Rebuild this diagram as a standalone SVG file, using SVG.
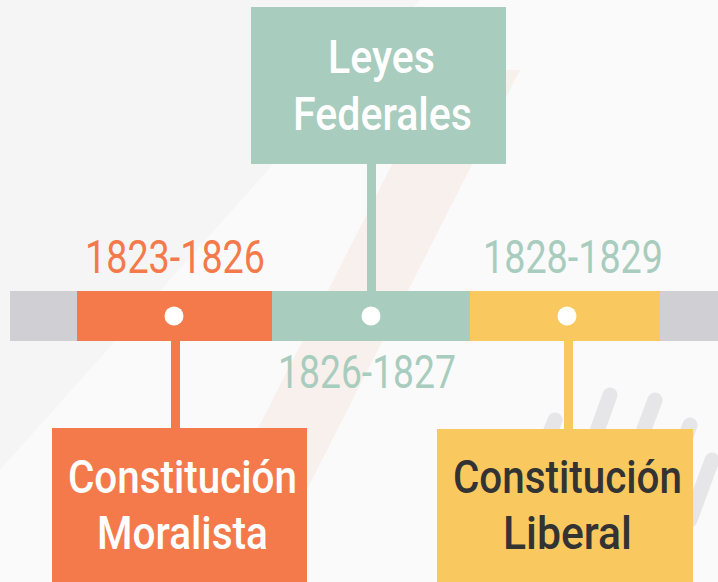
<svg xmlns="http://www.w3.org/2000/svg" width="718" height="582" viewBox="0 0 718 582">
<style>
  .t { font-family: Roboto, "Liberation Sans", "DejaVu Sans", sans-serif; font-size: 46px; font-weight: 400; }
  .lab { font-size: 47px; font-weight: 500; }
  .or { fill: #F47A4C; }
  .te { fill: #A8CCBD; }
  .ye { fill: #F9C95F; }
  .gr { fill: #D0D0D4; }
  .wh { fill: #FFFFFF; }
  .dk { fill: #333333; }
  .wm { stroke: #E6E6E8; stroke-width: 15; stroke-linecap: round; fill: none; }
</style>
<rect width="718" height="582" fill="#FAFAFA"/>
<g id="watermark">
  <polygon points="0,0 420,0 0,470" fill="#F5F5F5"/>
  <polygon points="440,70 520,70 260,582 180,582" fill="#F8F0EC"/>
  <line class="wm" x1="500" y1="560" x2="555" y2="420"/>
  <line class="wm" x1="545" y1="575" x2="610" y2="395"/>
  <line class="wm" x1="595" y1="560" x2="655" y2="400"/>
  <line class="wm" x1="645" y1="545" x2="690" y2="425"/>
  <line class="wm" x1="690" y1="520" x2="712" y2="460"/>
</g>
<g id="connectors">
  <rect class="te" x="367" y="160" width="9" height="135"/>
  <rect class="or" x="171" y="338" width="9" height="92"/>
  <rect class="ye" x="564" y="338" width="9" height="93"/>
</g>
<g id="timeline">
  <rect class="gr" x="10" y="291" width="67" height="50"/>
  <rect class="or" x="77" y="291" width="195" height="50"/>
  <rect class="te" x="272" y="291" width="198" height="50"/>
  <rect class="ye" x="470" y="291" width="190" height="50"/>
  <rect class="gr" x="660" y="291" width="58" height="50"/>
  <circle class="wh" cx="174" cy="316" r="9.5"/>
  <circle class="wh" cx="371" cy="316" r="9.5"/>
  <circle class="wh" cx="567" cy="316" r="9.5"/>
</g>
<g id="date-1823-1826">
  <text class="t or" x="85" y="273" textLength="180" lengthAdjust="spacingAndGlyphs">1823-1826</text>
</g>
<g id="date-1826-1827">
  <text class="t te" x="278" y="388" textLength="178" lengthAdjust="spacingAndGlyphs">1826-1827</text>
</g>
<g id="date-1828-1829">
  <text class="t te" x="483" y="273" textLength="180" lengthAdjust="spacingAndGlyphs">1828-1829</text>
</g>
<g id="leyes-federales">
  <rect class="te" x="251" y="7" width="255" height="157"/>
  <text class="t lab wh" x="328" y="73" textLength="107" lengthAdjust="spacingAndGlyphs">Leyes</text>
  <text class="t lab wh" x="293" y="130" textLength="179" lengthAdjust="spacingAndGlyphs">Federales</text>
</g>
<g id="constitucion-moralista">
  <rect class="or" x="52" y="428" width="255" height="154"/>
  <text class="t lab wh" x="68" y="493" textLength="229" lengthAdjust="spacingAndGlyphs">Constitución</text>
  <text class="t lab wh" x="97" y="549" textLength="171" lengthAdjust="spacingAndGlyphs">Moralista</text>
</g>
<g id="constitucion-liberal">
  <rect class="ye" x="437" y="429" width="256" height="153"/>
  <text class="t lab dk" x="453" y="493" textLength="229" lengthAdjust="spacingAndGlyphs">Constitución</text>
  <text class="t lab dk" x="503" y="549" textLength="129" lengthAdjust="spacingAndGlyphs">Liberal</text>
</g>
</svg>
